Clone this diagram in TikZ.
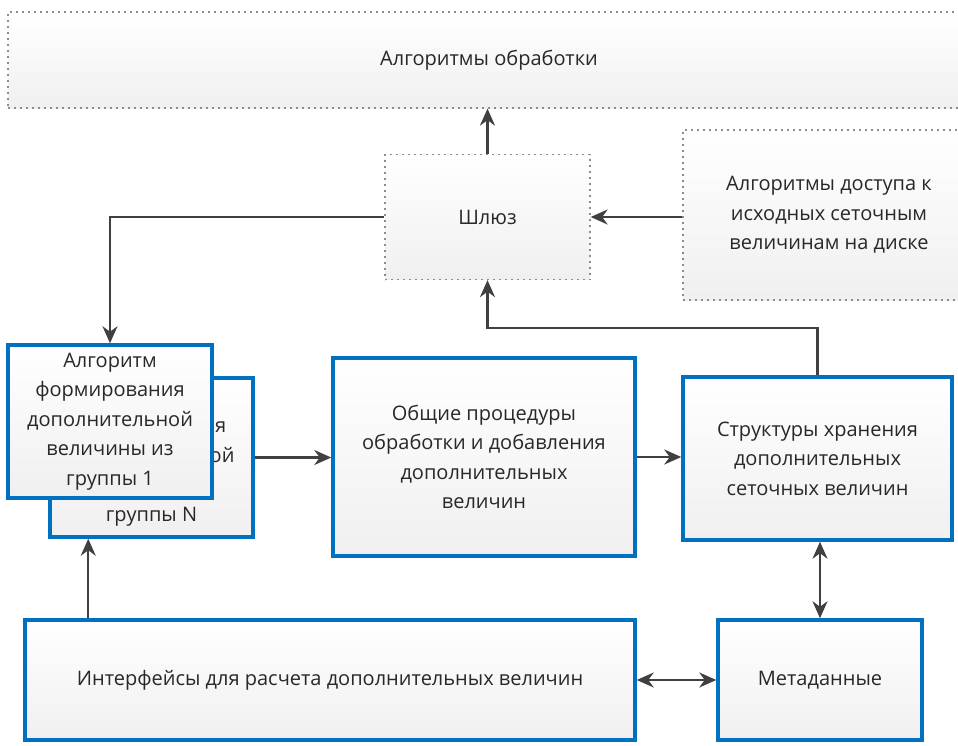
\documentclass[tikz,border=0pt]{standalone}
\usepackage{fontspec}
\setmainfont{Open Sans}
\usetikzlibrary{arrows.meta, positioning}

\definecolor{boxblue}{RGB}{0,112,192}
\definecolor{linegray}{RGB}{64,64,64}
\definecolor{textgray}{RGB}{40,40,40}

\begin{document}
\begin{tikzpicture}[
  x=1pt, y=-1pt,
  every node/.style={font=\fontsize{20}{29.5}\selectfont, text=textgray, align=center},
  block/.style={draw=boxblue, line width=3.5pt, rectangle, top color=white, bottom color=black!6},
  soft/.style={draw=black!45, line width=1.3pt, dash pattern=on 2pt off 4pt, rectangle, top color=white, bottom color=black!6},
  arrow/.style={-{Stealth[length=17pt, width=15pt]}, draw=linegray, line width=2.2pt},
  twoway/.style={{Stealth[length=17pt, width=15pt]}-{Stealth[length=17pt, width=15pt]}, draw=linegray, line width=2.2pt}
]
  \useasboundingbox (0,0) rectangle (958,745);
  \fill[white] (0,0) rectangle (958,745);

  % dotted blocks
  \node[soft, minimum width=962pt, minimum height=96pt] (proc) at (489,60) {Алгоритмы обработки};
  \node[soft, minimum width=205pt, minimum height=125pt] (gate) at (487.5,217) {Шлюз};
  \node[soft, minimum width=292pt, minimum height=170pt] (disk) at (829,215)
    {Алгоритмы доступа к\\исходных сеточным\\величинам на диске};

  % algorithm groups
  \node[block, minimum width=203pt, minimum height=159pt] (grpN) at (151.5,457.5)
    {Алгоритм\\формирования\\дополнительной\\величины из\\группы N};
  \node[block, minimum width=204pt, minimum height=153pt] (grp1) at (110,421.5)
    {Алгоритм\\формирования\\дополнительной\\величины из\\группы 1};

  \node[block, minimum width=302pt, minimum height=198pt] (common) at (484,457)
    {Общие процедуры\\обработки и добавления\\дополнительных\\величин};
  \node[block, minimum width=269pt, minimum height=163pt] (store) at (817.5,458.5)
    {Структуры хранения\\дополнительных\\сеточных величин};
  \node[block, minimum width=610pt, minimum height=120pt] (iface) at (330,680)
    {Интерфейсы для расчета дополнительных величин};
  \node[block, minimum width=204pt, minimum height=120pt] (meta) at (820,680) {Метаданные};

  % connectors
  \draw[arrow] (gate.north) -- (gate.north |- proc.south);
  \draw[arrow] (gate.west) -| (grp1.north);
  \draw[arrow] (disk.west |- gate.east) -- (gate.east);
  \draw[arrow] (store.north) -- ++(0,-47) -| (gate.south);
  \draw[arrow] (grpN.east) -- (common.west |- grpN.east);
  \draw[arrow] (common.east) -- (store.west |- common.east);
  \draw[arrow] ([xshift=65pt]iface.north west) -- ([xshift=40pt]grpN.south west);
  \draw[twoway] (meta.north) -- (meta.north |- store.south);
  \draw[twoway] (iface.east) -- (meta.west);
\end{tikzpicture}
\end{document}
